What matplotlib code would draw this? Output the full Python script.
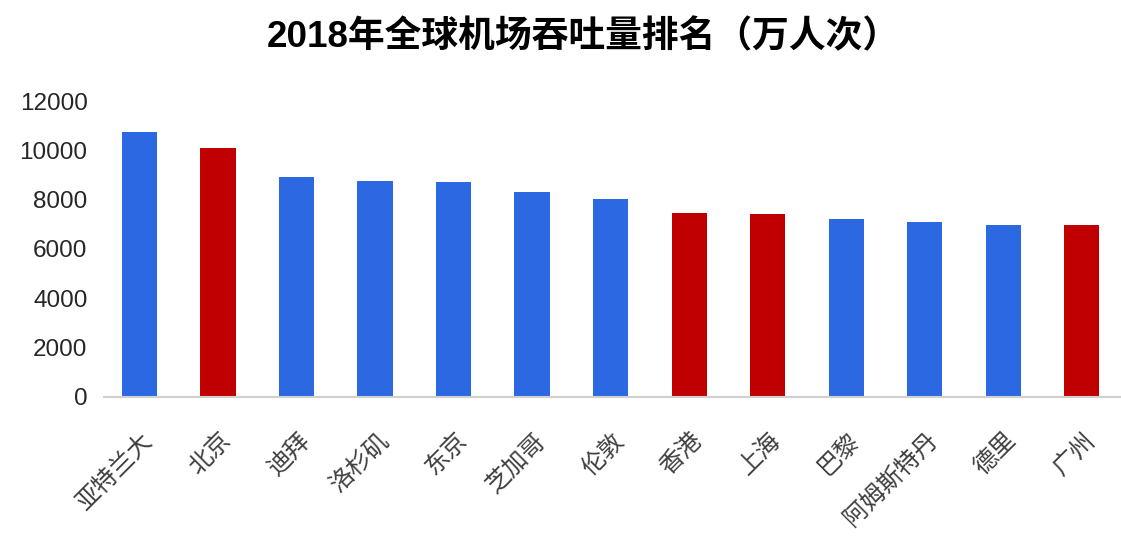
import matplotlib
matplotlib.use("Agg")
import matplotlib.pyplot as plt

plt.rcParams['font.family'] = ['Liberation Sans', 'Noto Sans CJK SC', 'DejaVu Sans']

# 2018 airport passenger throughput (10k passengers)
cities = ["亚特兰大", "北京", "迪拜", "洛杉矶", "东京", "芝加哥", "伦敦",
          "香港", "上海", "巴黎", "阿姆斯特丹", "德里", "广州"]
values = [10739, 10098, 8915, 8753, 8709, 8325, 8010,
          7451, 7401, 7223, 7105, 6990, 6974]
is_china = [False, True, False, False, False, False, False,
            True, True, False, False, False, True]
yticks = [0, 2000, 4000, 6000, 8000, 10000, 12000]

blue = "#2B68E2"
red = "#C00000"
colors = [red if c else blue for c in is_china]

fig = plt.figure(figsize=(11.21, 5.46), dpi=100)
ax = fig.add_axes([0.093, 0.273, 0.907, 0.542])

x = list(range(len(cities)))
ax.bar(x, values, width=0.45, color=colors)

ax.set_ylim(0, 12000)
ax.set_xlim(-0.45, 12.5)
ax.set_yticks(yticks)
ax.set_yticklabels([str(v) for v in yticks], fontsize=17.5, color="#262626")
ax.set_xticks(x)
ax.set_xticklabels(cities, rotation=45, ha="right", rotation_mode="anchor",
                   fontsize=17.5, color="#404040", family=['Noto Sans CJK SC'])
ax.tick_params(axis="both", length=0)
ax.tick_params(axis="y", pad=12)
ax.tick_params(axis="x", pad=22)

for s in ["top", "right", "left"]:
    ax.spines[s].set_visible(False)
ax.spines["bottom"].set_color("#D0D0D0")
ax.spines["bottom"].set_linewidth(1.5)

fig.text(0.52, 0.932, "2018年全球机场吞吐量排名（万人次）", ha="center", va="center",
         fontsize=26.5, fontweight="bold", family=['Liberation Sans', 'Noto Sans CJK SC'])

fig.savefig("out.png", dpi=100)
